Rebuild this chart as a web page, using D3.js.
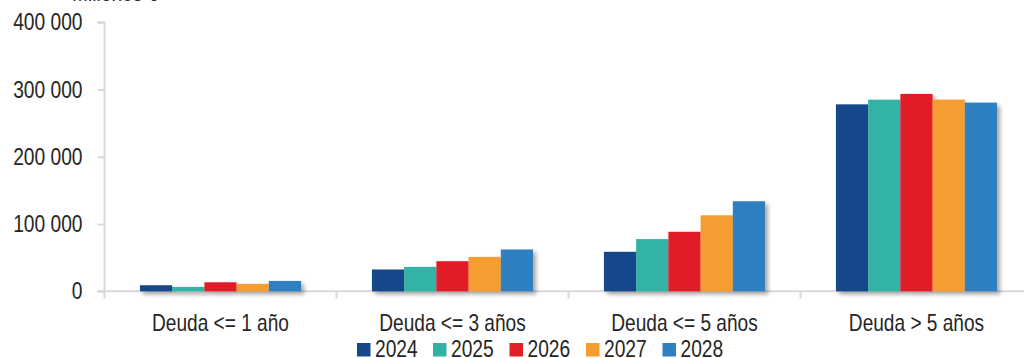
<!DOCTYPE html>
<html>
<head>
<meta charset="utf-8">
<script src="https://cdn.jsdelivr.net/npm/d3@7"></script>
<style>
  html, body { margin: 0; padding: 0; background: #fff; }
  svg { display: block; }
  text { font-family: "Liberation Sans", Arial, sans-serif; fill: #262626; }
</style>
</head>
<body>
<svg id="chart" width="1024" height="358"></svg>
<script>
// Debt maturity profile by bucket, millions of euros
const categories = ["Deuda <= 1 año", "Deuda <= 3 años", "Deuda <= 5 años", "Deuda > 5 años"];
const years = ["2024", "2025", "2026", "2027", "2028"];
const values2024 = [9000, 32400, 58700, 278000];
const values2025 = [6500, 36300, 77600, 285000];
const values2026 = [13400, 44800, 88500, 293500];
const values2027 = [11000, 51200, 113000, 285000];
const values2028 = [15400, 62200, 133900, 280600];
const yTicks = [0, 100000, 200000, 300000, 400000];
const unitLabel = "Millones €";
const colors = ["#17468a", "#30b3a5", "#e11f28", "#f59c32", "#2f80c3"];

const seriesValues = [values2024, values2025, values2026, values2027, values2028];
const data = categories.map((c, i) => ({
  category: c,
  values: years.map((y, j) => ({ year: y, value: seriesValues[j][i] }))
}));

const NARROW = 0.8; // horizontal squeeze for a condensed look
const svg = d3.select("#chart");

const defs = svg.append("defs");
const shadow = defs.append("filter").attr("id", "barShadow")
  .attr("x", "-10%").attr("y", "-10%").attr("width", "130%").attr("height", "130%");
shadow.append("feDropShadow")
  .attr("dx", 3).attr("dy", 3).attr("stdDeviation", 2)
  .attr("flood-color", "#000").attr("flood-opacity", 0.35);

const plotLeft = 104.5, plotRight = 1032.5, plotTop = 22.3, plotBottom = 291.3;

const y = d3.scaleLinear().domain([0, 400000]).range([plotBottom, plotTop]);
const x0 = d3.scaleBand().domain(categories).range([plotLeft, plotRight]).padding(0);
const x1 = d3.scaleBand().domain(years).range([0, x0.bandwidth()])
  .paddingInner(0).paddingOuter(1.1);

const fmt = v => d3.format(",")(v).replace(/,/g, " ");

// Unit label, mostly clipped at top
svg.append("text")
  .attr("transform", `translate(72,0.5) scale(${NARROW},1)`)
  .style("font-size", "24px")
  .text(unitLabel);

// Y axis
const yAxis = svg.append("g")
  .attr("transform", `translate(${plotLeft},0)`)
  .call(d3.axisLeft(y).tickValues(yTicks).tickFormat(fmt).tickSize(7).tickPadding(15));
yAxis.select(".domain").attr("stroke", "#d9d9d9").attr("stroke-width", 2)
  .attr("d", `M-7,${plotTop}H0V${plotBottom}`);
yAxis.selectAll(".tick line").attr("stroke", "#d9d9d9").attr("stroke-width", 2);
yAxis.selectAll(".tick text")
  .style("font-size", "24px").attr("fill", "#262626")
  .attr("x", -22 / NARROW)
  .attr("transform", `scale(${NARROW},1)`);

// X axis with boundary ticks
const xAxisG = svg.append("g").attr("transform", `translate(0,${plotBottom})`);
xAxisG.append("line")
  .attr("x1", plotLeft - 7).attr("x2", 1024)
  .attr("stroke", "#d9d9d9").attr("stroke-width", 2);
const boundaries = categories.map(c => x0(c)).concat([plotRight]);
xAxisG.selectAll("line.bound").data(boundaries).enter().append("line")
  .attr("class", "bound")
  .attr("x1", d => d).attr("x2", d => d).attr("y1", 0).attr("y2", 7)
  .attr("stroke", "#d9d9d9").attr("stroke-width", 2);

// Bars
const groups = svg.append("g").attr("filter", "url(#barShadow)")
  .selectAll("g.grp").data(data).enter().append("g")
  .attr("class", "grp")
  .attr("transform", d => `translate(${x0(d.category)},0)`);
groups.selectAll("rect").data(d => d.values).enter().append("rect")
  .attr("x", d => x1(d.year))
  .attr("width", x1.bandwidth())
  .attr("y", d => y(d.value))
  .attr("height", d => y(0) - y(d.value))
  .attr("fill", (d, i) => colors[i]);

// Category labels
svg.append("g").selectAll("text").data(categories).enter().append("text")
  .attr("transform", d => `translate(${x0(d) + x0.bandwidth() / 2},330.5) scale(0.83,1)`)
  .attr("text-anchor", "middle")
  .style("font-size", "23px")
  .text(d => d);

// Legend
const legendX = [357, 433, 509.5, 586, 662.5];
const legend = svg.append("g").selectAll("g").data(years).enter().append("g")
  .attr("transform", (d, i) => `translate(${legendX[i]},356.5)`);
legend.append("rect")
  .attr("x", 0).attr("y", -13.5).attr("width", 13.5).attr("height", 13.5)
  .attr("fill", (d, i) => colors[i]);
legend.append("text")
  .attr("transform", `translate(18,0) scale(${NARROW},1)`)
  .style("font-size", "24px")
  .text(d => d);
</script>
</body>
</html>
